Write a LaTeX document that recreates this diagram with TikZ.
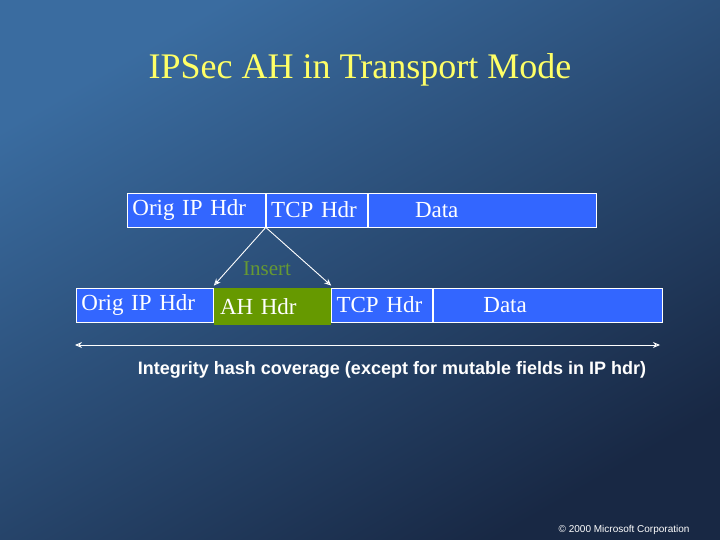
\documentclass[tikz,border=0pt]{standalone}
\usepackage{fontspec}
\setmainfont{Liberation Serif}
\setsansfont{Liberation Sans}
\usepackage{tikz}
\usetikzlibrary{positioning,arrows.meta}

\definecolor{slidetop}{RGB}{58,108,160}
\definecolor{slidebot}{RGB}{24,40,68}
\definecolor{pktblue}{RGB}{51,102,255}
\definecolor{ahgreen}{RGB}{102,153,0}
\definecolor{insgreen}{RGB}{102,153,51}
\definecolor{titleyel}{RGB}{255,255,102}

\begin{document}
\begin{tikzpicture}[x=1pt, y=-1pt, node distance=0pt, >={Stealth[length=7pt,width=6pt,open]}]
  \tikzstyle{pkt}=[rectangle, draw=white, line width=0.8pt, fill=pktblue, text=white,
    minimum height=34pt, inner xsep=5pt, inner ysep=0pt, align=left,
    font=\fontsize{23}{26}\selectfont]
  \tikzstyle{ah}=[rectangle, fill=ahgreen, text=white, minimum height=37pt,
    inner xsep=6pt, inner ysep=0pt, align=left, font=\fontsize{23}{26}\selectfont]
  % background
  \shade[top color=slidetop, bottom color=slidebot, shading angle=30]
    (0,0) rectangle (720,540);
  \useasboundingbox (0,0) rectangle (720,540);
  \node[text=titleyel, font=\fontsize{36}{40}\selectfont] (title) at (360,70) {IPSec AH in Transport Mode};
  % original packet
  \node[pkt, text width=128pt, anchor=west] (oip1) at (127,210) {Orig IP Hdr};
  \node[pkt, text width=91pt, right=of oip1] (tcp1) {TCP Hdr};
  \node[pkt, text width=218pt, right=of tcp1] (data1) {\hspace*{42pt}Data};
  % packet with AH
  \node[pkt, text width=127pt, anchor=west] (oip2) at (76,305) {Orig IP Hdr};
  \node[ah, text width=105pt, anchor=north west] (ahh) at (oip2.north east) {\raisebox{-3pt}{AH Hdr}};
  \node[pkt, text width=91pt, anchor=north west] (tcp2) at (ahh.north east) {TCP Hdr};
  \node[pkt, text width=219pt, right=of tcp2] (data2) {\hspace*{45pt}Data};
  \node[text=insgreen, font=\fontsize{21}{24}\selectfont] (ins) at (267,269) {Insert};
  \draw[->, white, line width=0.9pt] (oip1.south east) -- ([yshift=2pt]ahh.north west);
  \draw[->, white, line width=0.9pt] (oip1.south east) -- ([yshift=2pt]ahh.north east);
  % coverage
  \coordinate (covl) at (75,345);
  \coordinate (covr) at (660,345);
  \draw[<->, white, line width=0.9pt] (covl) -- (covr);
  \node[text=white, font=\sffamily\bfseries\fontsize{18}{21}\selectfont] (cov) at (392,370)
    {Integrity hash coverage (except for mutable fields in IP hdr)};
  \node[text=white, font=\sffamily\fontsize{10}{12}\selectfont, anchor=east] (copy) at (693,530)
    {\textcopyright{} 2000 Microsoft Corporation};
\end{tikzpicture}
\end{document}
